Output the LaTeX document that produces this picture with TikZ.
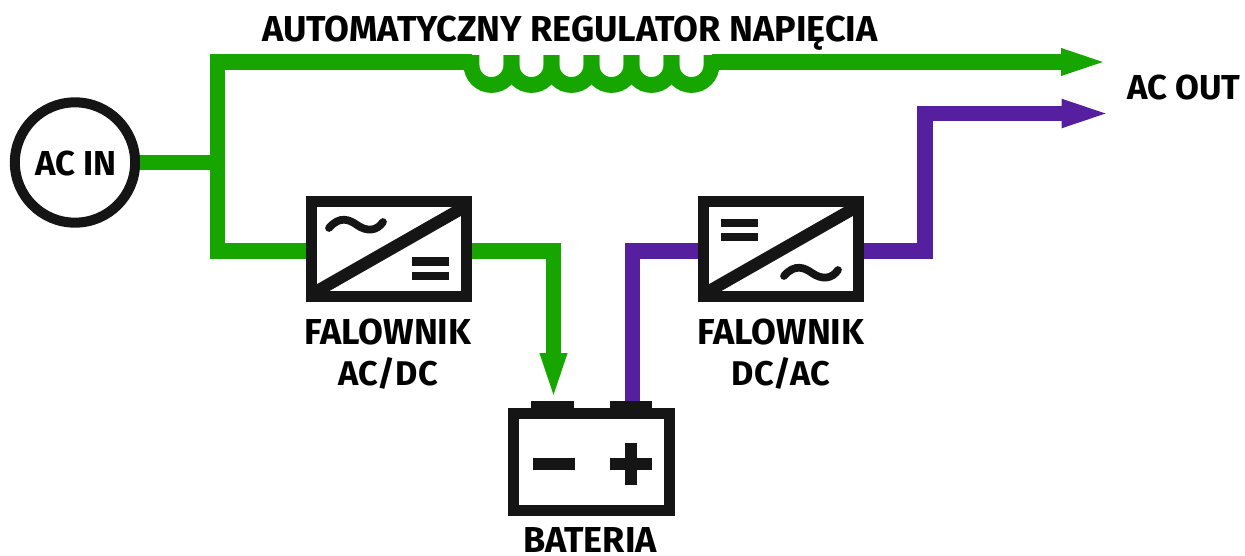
\documentclass[tikz,border=0pt]{standalone}
\usepackage{fontspec}
\setmainfont{Fira Sans}
\usetikzlibrary{arrows.meta}
\definecolor{linegreen}{HTML}{17A600}
\definecolor{linepurple}{HTML}{561FA0}
\definecolor{boxblack}{HTML}{151515}
\newcommand{\subline}[1]{{\fontsize{19.5}{23}\selectfont #1}}
\tikzset{
    greenline/.style={draw=linegreen, line width=9pt},
    purpleline/.style={draw=linepurple, line width=9pt},
    greenarrow/.style={greenline, -{Stealth[length=29pt,width=13pt,inset=0pt]}},
    purplearrow/.style={purpleline, -{Stealth[length=31pt,width=13.6pt,inset=0pt]}},
    framebox/.style={draw=boxblack, line width=6pt, fill=white, minimum width=88.5pt, minimum height=54.3pt, inner sep=0pt},
    symline/.style={draw=boxblack, line width=4.4pt, line cap=round},
    symfill/.style={fill=boxblack},
    label/.style={font=\bfseries\fontsize{20.5}{23}\selectfont, text=black, inner sep=0pt, align=center, anchor=base},
    smalllabel/.style={label, font=\bfseries\fontsize{19.7}{23}\selectfont}
}
\begin{document}
\begin{tikzpicture}[x=0.02cm,y=-0.02cm]
    \useasboundingbox (0,0) rectangle (1245,555);

    % Draw the main nodes
    \node[circle, draw=boxblack, line width=5.7pt, fill=white, minimum size=68.5pt, inner sep=0pt] (acin) at (75,162.5) {};
    \node[framebox] (acdc) at (389,249) {};
    \node[framebox] (dcac) at (781,249) {};
    \node[draw=boxblack, line width=6pt, fill=white, minimum width=89pt, minimum height=55pt, inner sep=0pt] (battery) at (591.5,462) {};
    \coordinate (split) at (217.5,162.5);
    \coordinate (top) at (217.5,62);
    \coordinate (low) at (217.5,251);
    \coordinate (coilin) at (471.5,62);
    \coordinate (coilout) at (711.5,62);
    \coordinate (outgreen) at (1112,62);
    \coordinate (outpurple) at (1116,113.5);
    \coordinate (bend) at (925,251);
    \coordinate (bendtop) at (925,113.5);
    \coordinate (batgreen) at (553.5,251);
    \coordinate (batgreenend) at (553.5,404);
    \coordinate (batpurple) at (632.5,251);
    \coordinate (batpurpleend) at (632.5,404);

    % Draw the green lines
    \draw[greenline] (acin.east) -- (split);
    \draw[greenline] ([yshift=4.5pt]top) -- ([yshift=-4.5pt]low);
    \draw[greenline] ([xshift=-4.5pt]top) -- (coilin);
    \draw[greenarrow] (coilout) -- (outgreen);
    \draw[greenline] ([xshift=-4.5pt]low) -- (acdc.west |- low);
    \draw[greenarrow] (acdc.east |- batgreen) -- (batgreen) -- (batgreenend);

    % Draw the coil
    \foreach \x in {471.5,511.5,551.5,591.5,631.5,671.5} {
        \draw[greenline] (\x,55) -- (\x,65) arc (180:0:20) -- ++(0,-10);
    }

    % Draw the purple lines
    \draw[purpleline] (batpurpleend) -- (batpurple) -- (dcac.west |- batpurple);
    \draw[purplearrow] (dcac.east |- bend) -- (bend) -- (bendtop) -- (outpurple);

    % Redraw the boxes on top of the lines
    \begin{scope}
        \clip (311.5,201.5) rectangle (467,297);
        \draw[draw=boxblack, line width=6.9pt] (311,294.5) -- (467,205.5);
    \end{scope}
    \begin{scope}
        \clip (703.5,201.5) rectangle (859,297);
        \draw[draw=boxblack, line width=6.9pt] (703,294.5) -- (859,205.5);
    \end{scope}
    \node[framebox, fill=none] at (acdc) {};
    \node[framebox, fill=none] at (dcac) {};

    % Add the symbols inside the boxes
    \draw[symline] (329,228) .. controls (340,215) and (350,220) .. (357,225) .. controls (367,232) and (377,231) .. (383,222);
    \fill[symfill] (412,257) rectangle (449,266);
    \fill[symfill] (412,272) rectangle (449,280);
    \fill[symfill] (721,219) rectangle (758,227);
    \fill[symfill] (721,233) rectangle (758,241);
    \draw[symline] (784,276) .. controls (795,263) and (805,268) .. (812,273) .. controls (822,280) and (832,279) .. (838,270);

    % Add the battery terminals and signs
    \fill[symfill] (531,401) rectangle (574,410);
    \fill[symfill] (610,401) rectangle (652,410);
    \fill[symfill] (533,458) rectangle (575,470);
    \fill[symfill] (610,458) rectangle (652,470);
    \fill[symfill] (625,443) rectangle (637,485);

    % Add the labels
    \node[smalllabel] (aclabel) at (76,175) {AC IN};
    \node[label] (regulator) at (570,41) {AUTOMATYCZNY REGULATOR NAPIĘCIA};
    \node[smalllabel] (acout) at (1184,99) {AC OUT};
    \node[label, anchor=center] (acdclabel) at (388,354) {FALOWNIK\\\subline{AC/DC}};
    \node[label, anchor=center] (dcaclabel) at (781,354) {FALOWNIK\\\subline{DC/AC}};
    \node[label] (batlabel) at (590,552) {BATERIA};
\end{tikzpicture}
\end{document}
